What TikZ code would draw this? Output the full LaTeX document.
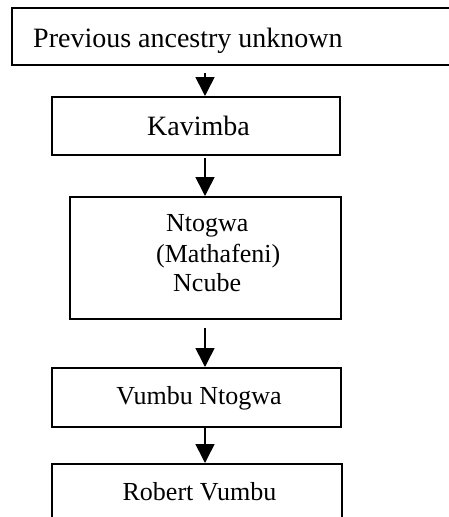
\documentclass[tikz,border=0pt]{standalone}
\usepackage{fontspec}
\setmainfont{Liberation Serif}
\usetikzlibrary{arrows.meta}
\tikzset{
  box/.style={draw, line width=2pt, rectangle, inner sep=0pt},
  lbl/.style={inner sep=0pt, anchor=base, font=\fontsize{26}{30}\selectfont},
  lblbig/.style={inner sep=0pt, anchor=base, font=\fontsize{28}{32}\selectfont},
  arr/.style={line width=1.6pt, -{Triangle[width=19pt,length=19pt]}}
}
\begin{document}
\begin{tikzpicture}[x=1pt,y=-1pt]
\useasboundingbox (0,0) rectangle (448,517);
% boxes
\node[box, minimum width=458pt, minimum height=57pt] (b1) at (241,36.5) {};
\node[box, minimum width=288pt, minimum height=58pt] (b2) at (196,126) {};
\node[box, minimum width=271pt, minimum height=122pt] (b3) at (205.5,258) {};
\node[box, minimum width=289pt, minimum height=59pt] (b4) at (196.5,397.5) {};
\node[box, minimum width=290pt, minimum height=120pt] (b5) at (197,524) {};
% texts
\node[lblbig, anchor=base west] (t1) at (33,47) {Previous ancestry unknown};
\node[lblbig] (t2) at (198.5,135) {Kavimba};
\node[lbl, anchor=base west] (t3a) at (166,231) {Ntogwa};
\node[lbl, anchor=base west] (t3b) at (156,262.5) {(Mathafeni)};
\node[lbl, anchor=base west] (t3c) at (173,291.5) {Ncube};
\node[lbl] (t4) at (199,404) {Vumbu Ntogwa};
\node[lbl] (t5) at (199.5,500) {Robert Vumbu};
% arrow starts
\coordinate (s1) at (205,73);
\coordinate (s2) at (205,158);
\coordinate (s3) at (205,328);
\coordinate (s4) at (205,427);
% arrows
\draw[arr] (s1) -- (s1 |- b2.north);
\draw[arr] (s2) -- (s2 |- b3.north);
\draw[arr] (s3) -- (s3 |- b4.north);
\draw[arr] (s4) -- (s4 |- b5.north);
\end{tikzpicture}
\end{document}
